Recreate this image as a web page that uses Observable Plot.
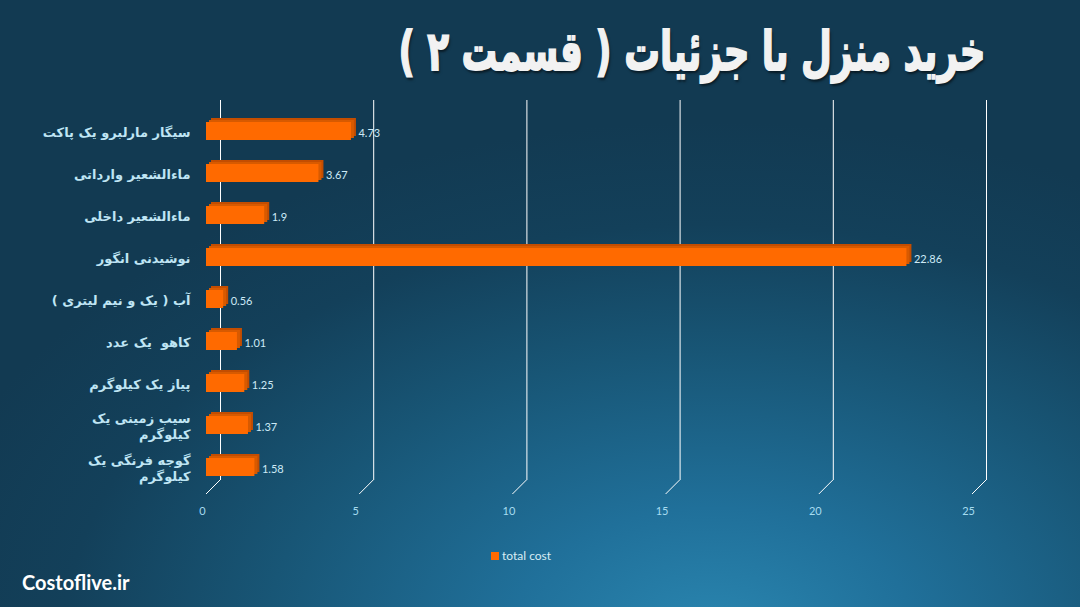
<!DOCTYPE html>
<html>
<head>
<meta charset="utf-8">
<script src="https://cdn.jsdelivr.net/npm/d3@7"></script>
<script src="https://cdn.jsdelivr.net/npm/@observablehq/plot@0.6"></script>
<style>
  html, body { margin: 0; padding: 0; }
  #wrap {
    position: relative; width: 1080px; height: 607px; overflow: hidden;
    background: radial-gradient(ellipse 75% 85% at 66% 105%, #2a86b0 0%, #20709a 25%, #185676 55%, #13405a 80%, #123a52 100%);
  }
  #title {
    position: absolute; top: 20px; right: 95px; direction: rtl;
    font-family: "DejaVu Sans", sans-serif; font-weight: bold; font-size: 54px; line-height: 64px;
    color: #f2f2f2; text-shadow: 2px 3px 3px rgba(0,0,0,0.55); white-space: nowrap;
    -webkit-text-stroke: 1.8px #f2f2f2;
    transform-origin: right center;
  }
  #chart { position: absolute; top: 100px; left: 0; }
  #legend {
    position: absolute; top: 548px; left: 491px; font-family: Lato, "Open Sans", sans-serif;
    font-size: 12px; color: #d8ecf4; display: flex; align-items: center; gap: 3px;
  }
  #legend .sw { width: 8px; height: 8px; background: #ff6a00; display: inline-block; }
  #caption {
    position: absolute; top: 570px; left: 22px; font-family: Lato, "Open Sans", sans-serif;
    font-weight: bold; font-size: 20px; color: #ffffff;
  }
</style>
</head>
<body>
<div id="wrap">
  <div id="title">خرید منزل با جزئیات ( قسمت ۲ )</div>
  <div id="chart"></div>
  <div id="legend"><span class="sw"></span><span id="legendText"></span></div>
  <div id="caption">Costoflive.ir</div>
</div>
<script>
const categories = [
  "سیگار مارلبرو یک پاکت",
  "ماءالشعیر وارداتی",
  "ماءالشعیر داخلی",
  "نوشیدنی انگور",
  "آب ( یک و نیم لیتری )",
  "کاهو  یک عدد",
  "پیاز یک کیلوگرم",
  "سیب زمینی یک\nکیلوگرم",
  "گوجه فرنگی یک\nکیلوگرم"
];
const values = [4.73, 3.67, 1.9, 22.86, 0.56, 1.01, 1.25, 1.37, 1.58];
const xTicks = [0, 5, 10, 15, 20, 25];
const seriesName = "total cost";

document.getElementById("legendText").textContent = seriesName;

// fit title width to reference span
const titleEl = document.getElementById("title");
const tw = titleEl.getBoundingClientRect().width;
titleEl.style.transform = `scaleX(${587 / tw})`;

const data = categories.map((c, i) => ({name: c, value: values[i]}));
const rtl = s => s.split("\n").map(l => "\u200F" + l + "\u200F").join("\n");

const floor = (index, scales, vals, dims) => {
  const g = document.createElementNS("http://www.w3.org/2000/svg", "g");
  const yb = dims.height - dims.marginBottom;
  for (const t of xTicks) {
    const x = scales.x(t);
    const l = document.createElementNS("http://www.w3.org/2000/svg", "line");
    l.setAttribute("x1", x + 14); l.setAttribute("y1", yb - 9);
    l.setAttribute("x2", x); l.setAttribute("y2", yb + 5);
    l.setAttribute("stroke", "#ffffff"); l.setAttribute("stroke-width", 1);
    g.appendChild(l);
  }
  return g;
};

const chart = Plot.plot({
  width: 1080,
  height: 430,
  marginLeft: 206,
  marginRight: 108,
  marginTop: 9,
  marginBottom: 41,
  style: {background: "transparent", overflow: "visible"},
  x: {domain: [0, 25], ticks: xTicks, label: null},
  y: {domain: categories, paddingInner: 0.57, paddingOuter: 0.28, label: null},
  marks: [
    Plot.ruleX(xTicks, {stroke: "#ffffff", strokeWidth: 1, dx: 14, dy: -9}),
    floor,
    Plot.barX(data, {x: "value", y: "name", fill: "#c44d00", dx: 5, dy: -4}),
    Plot.barX(data, {x: "value", y: "name", fill: "#d85a00", dx: 3, dy: -2}),
    Plot.barX(data, {x: "value", y: "name", fill: "#ff6a00"}),
    Plot.text(data, {x: "value", y: "name", text: d => String(d.value), dx: 7, dy: 2,
      textAnchor: "start", fill: "#cdeaf6", fontSize: 11, fontFamily: "Lato, 'Open Sans', sans-serif"}),
    Plot.axisY({tickSize: 0, tickPadding: 16, tickFormat: d => rtl(d), fontSize: 13,
      fontWeight: "bold", fill: "#bfe5f4", fontFamily: "'DejaVu Sans', sans-serif", lineHeight: 1.25, label: null}),
    Plot.axisX({anchor: "bottom", ticks: xTicks, tickSize: 0, tickPadding: 18, dx: -4, fontSize: 11,
      fill: "#a6dcf0", fontFamily: "Lato, 'Open Sans', sans-serif", label: null})
  ]
});
document.getElementById("chart").appendChild(chart);
</script>
</body>
</html>
